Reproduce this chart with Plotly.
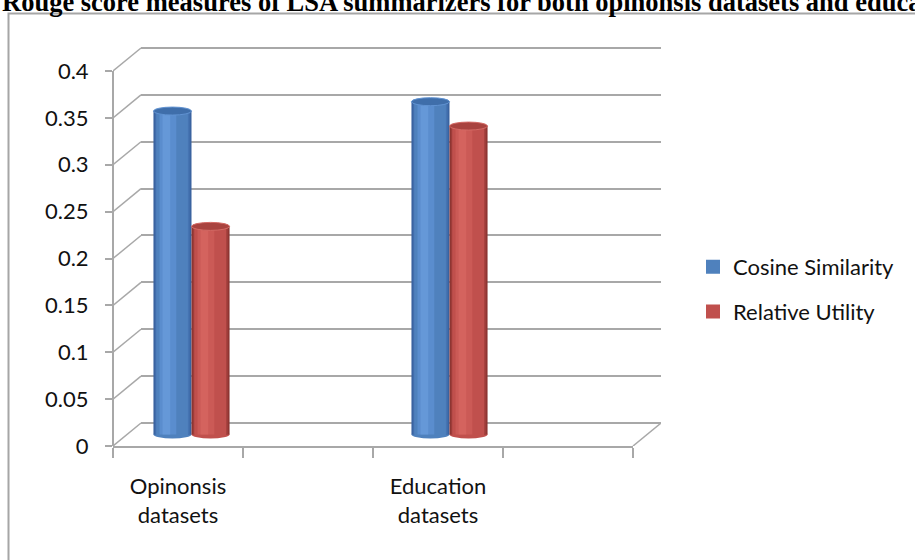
import plotly.graph_objects as go

# ---------------- data ----------------
slot_labels = ["Opinonsis<br>datasets", "", "Education<br>datasets", ""]
series_names = ["Cosine Similarity", "Relative Utility"]
cosine_similarity = [0.345, 0.355]
relative_utility = [0.222, 0.329]
value_ticks = [0, 0.05, 0.1, 0.15, 0.2, 0.25, 0.3, 0.35, 0.4]
title_text = ("Rouge score measures of LSA summarizers for both "
              "opinonsis datasets and education datasets")

# ---------------- geometry (pixels) ----------------
W, H = 915, 560
Y_MAX = value_ticks[-1]
PX_PER_UNIT = 937.5            # vertical scale shared by all depth planes
DEPTH_X, DEPTH_Y = 28, 23      # front plane -> back wall offset
FRONT_X0, FRONT_X1, FRONT_BASE = 113, 633, 446
BACK_BASE = FRONT_BASE - DEPTH_Y
BAR_X0, BAR_X1 = 127, 643      # bars stand half way into the depth
BAR_BASE = FRONT_BASE - DEPTH_Y / 2
BAR_PAD = 0.02                 # room for the cylinder ellipses
EDGE_PAD = 0.002               # keeps the top gridline inside the range
BW = 0.295                     # width of one cylinder, in category units
CAP_H = 8                      # ellipse height of cylinder ends

GRID = "#A8A8A8"
TXT = "#111111"
FONT = "Lato"

cat_x = [i for i, s in enumerate(slot_labels) if s]
cat_text = [s for s in slot_labels if s]
X_RANGE = [-0.5, len(slot_labels) - 0.5]
boundaries = [X_RANGE[0] + i for i in range(len(slot_labels) + 1)]
depth_units = DEPTH_Y / PX_PER_UNIT


def xdom(a, b):
    return [a / W, b / W]


def ydom_for(base_px, lo, hi):
    """Domain that puts value 0 at base_px for the given value range."""
    bottom_px = base_px - lo * PX_PER_UNIT
    top_px = base_px - hi * PX_PER_UNIT
    return [1 - bottom_px / H, 1 - top_px / H]


# cylinder shading bands (fraction of width) and palettes, dark edge -> highlight
BANDS = [(0.0, 1.0), (0.05, 0.95), (0.10, 0.88), (0.16, 0.60), (0.24, 0.44)]
LEGEND_BAND = 2
palettes = {
    "Cosine Similarity": ["#3A63A0", "#4574B2", "#4F81BD", "#5A8DCE", "#6598D8"],
    "Relative Utility": ["#8E3532", "#A8423F", "#C0504D", "#CB5A56", "#D4635E"],
}
caps = {
    "Cosine Similarity": ("#3F6EAA", "#6193D2"),
    "Relative Utility": ("#A9433F", "#D46A65"),
}
series = [
    ("Cosine Similarity", cosine_similarity, -BW),
    ("Relative Utility", relative_utility, 0.0),
]

fig = go.Figure()
shapes = []

for name, values, off in series:
    pal = palettes[name]
    for k, ((f0, f1), color) in enumerate(zip(BANDS, pal)):
        legend_entry = k == LEGEND_BAND
        fig.add_trace(go.Bar(
            x=cat_x, y=values,
            width=BW * (f1 - f0), offset=off + BW * f0,
            marker=dict(color=color,
                        line=dict(width=2 if legend_entry else 0, color=color)),
            name=name, legendgroup=name, showlegend=legend_entry,
            xaxis="x2", yaxis="y2", hoverinfo="skip",
        ))
    cap_fill, cap_rim = caps[name]
    for x, v in zip(cat_x, values):
        # rounded bottom of the cylinder
        shapes.append(dict(
            type="circle", layer="below", xref="x2", yref="y2",
            x0=x + off, x1=x + off + BW,
            ysizemode="pixel", yanchor=0, y0=-CAP_H / 2, y1=CAP_H / 2,
            fillcolor=pal[2], line=dict(width=0),
        ))
        # top face of the cylinder
        shapes.append(dict(
            type="circle", layer="above", xref="x2", yref="y2",
            x0=x + off, x1=x + off + BW,
            ysizemode="pixel", yanchor=v, y0=-CAP_H / 2, y1=CAP_H / 2,
            fillcolor=cap_fill, line=dict(width=1, color=cap_rim),
        ))

# side wall: diagonals from each front tick back to the wall gridline
for v in value_ticks:
    shapes.append(dict(
        type="line", xref="x3", yref="y3",
        xsizemode="pixel", ysizemode="pixel",
        xanchor=X_RANGE[0], yanchor=v,
        x0=0, x1=DEPTH_X, y0=0, y1=DEPTH_Y,
        line=dict(color=GRID, width=1.5),
    ))
# floor: right-hand edge
shapes.append(dict(
    type="line", xref="x", yref="y",
    xsizemode="pixel", ysizemode="pixel",
    xanchor=X_RANGE[1], yanchor=0,
    x0=0, x1=-DEPTH_X, y0=0, y1=-DEPTH_Y,
    line=dict(color=GRID, width=1.5),
))
# front value axis line
shapes.append(dict(
    type="line", xref="x3 domain", yref="y3",
    x0=0, x1=0, y0=value_ticks[0], y1=Y_MAX,
    line=dict(color=GRID, width=2),
))
# chart area border
shapes.append(dict(
    type="rect", xref="paper", yref="paper", layer="below",
    x0=8.5 / W, x1=1.2, y0=-0.2, y1=1 - 13.5 / H,
    line=dict(color="#A6A6A6", width=2),
))

tick_font = dict(family=FONT, size=22, color=TXT)
back_range = [-depth_units, Y_MAX + EDGE_PAD]
bar_range = [-BAR_PAD, Y_MAX + BAR_PAD]
front_range = [0, Y_MAX + depth_units + EDGE_PAD]

fig.update_layout(
    width=W, height=H,
    margin=dict(l=0, r=0, t=0, b=0, autoexpand=False),
    paper_bgcolor="white", plot_bgcolor="rgba(0,0,0,0)",
    barmode="overlay", hovermode=False,
    shapes=shapes,
    # back wall with gridlines
    xaxis=dict(domain=xdom(FRONT_X0 + DEPTH_X, FRONT_X1 + DEPTH_X),
               range=X_RANGE, anchor="y", visible=False, automargin=False),
    yaxis=dict(domain=ydom_for(BACK_BASE, *back_range),
               range=back_range, anchor="x", automargin=False,
               tickmode="array", tickvals=value_ticks,
               showticklabels=False, ticks="", showline=False,
               showgrid=True, gridcolor=GRID, gridwidth=2, zeroline=False),
    # cylinders, half way into the depth
    xaxis2=dict(domain=xdom(BAR_X0, BAR_X1), range=X_RANGE,
                anchor="y2", visible=False, automargin=False),
    yaxis2=dict(domain=ydom_for(BAR_BASE, *bar_range),
                range=bar_range, anchor="x2", visible=False, automargin=False),
    # front plane: labelled axes
    xaxis3=dict(domain=xdom(FRONT_X0, FRONT_X1), range=X_RANGE, anchor="y3",
                automargin=False,
                showline=True, linecolor=GRID, linewidth=2,
                tickmode="array", tickvals=cat_x, ticktext=cat_text,
                ticks="", tickfont=tick_font, ticklabelstandoff=20,
                minor=dict(tickmode="array", tickvals=boundaries,
                           ticks="outside", ticklen=10, tickwidth=1.5,
                           tickcolor=GRID),
                showgrid=False, zeroline=False),
    yaxis3=dict(domain=ydom_for(FRONT_BASE, *front_range),
                range=front_range, anchor="x3", automargin=False,
                showline=False, tickmode="array", tickvals=value_ticks,
                ticktext=[f"{v:g}" for v in value_ticks],
                ticks="outside", ticklen=7, tickwidth=1.5, tickcolor=GRID,
                tickfont=tick_font, ticklabelstandoff=12,
                showgrid=False, zeroline=False),
    legend=dict(x=693 / W, y=1 - 246 / H, xanchor="left", yanchor="top",
                font=dict(family=FONT, size=22, color=TXT),
                tracegroupgap=13, bgcolor="rgba(0,0,0,0)"),
    annotations=[dict(
        text=title_text, xref="paper", yref="paper",
        x=0, y=1 - 19.5 / H, xanchor="left", yanchor="bottom",
        showarrow=False,
        font=dict(family="Liberation Serif", size=26.5, color="black",
                  weight="bold"),
    )],
)

fig.write_html("out.html")
